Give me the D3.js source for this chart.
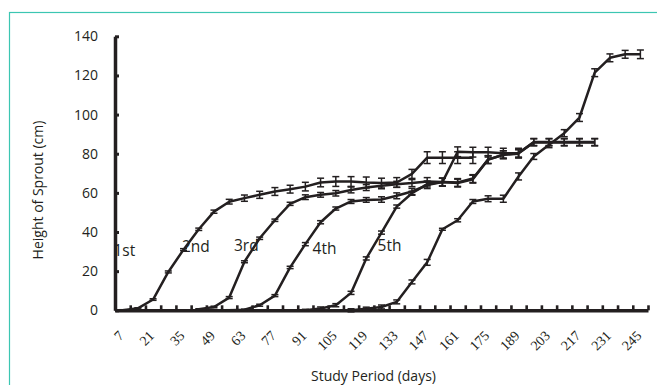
<!DOCTYPE html>
<html>
<head>
<meta charset="utf-8">
<script src="https://cdn.jsdelivr.net/npm/d3@7"></script>
<style>
  body { margin: 0; background: #fff; }
  .axis path, .axis line { stroke: #231f20; }
  .axis text { fill: #231f20; }
</style>
</head>
<body>
<svg id="chart" width="657" height="385"></svg>
<script>
// study days (one category per week)
var days = [7, 14, 21, 28, 35, 42, 49, 56, 63, 70, 77, 84, 91, 98, 105, 112, 119, 126, 133, 140,
            147, 154, 161, 168, 175, 182, 189, 196, 203, 210, 217, 224, 231, 238, 245];
var dayLabels = [7, 21, 35, 49, 63, 77, 91, 105, 119, 133, 147, 161, 175, 189, 203, 217, 231, 245];
var yTicks = [0, 20, 40, 60, 80, 100, 120, 140];

var seriesNames = ["1st", "2nd", "3rd", "4th", "5th"];

// sprout height (cm), null = not measured
var sprout1 = [0, 1, 5.5, 19.6, 31, 41.4, 50.4, 55.5, 57.3, 59, 60.7, 61.9, 63.2, 65.3, 65.8, 65.8, 65.3, 65, 65.3, 69.7,
               78, 78, 78, 78, null, null, null, null, null, null, null, null, null, null, null];
var sprout2 = [null, null, null, null, null, 0.5, 1.7, 6.5, 24.8, 36.8, 46, 54.4, 57.8, 59, 59.8, 61.5, 62.7, 63.6, 64.4, 65,
               65.8, 65.5, 81, 80.8, 80.8, 80.3, 80.3, 86, 86, 86, 86, 86, null, null, null];
var sprout3 = [null, null, null, null, null, null, null, 0, 0.3, 2.6, 7.5, 21.9, 33.8, 45, 52, 55.6, 56.4, 56.6, 58.5, 60.7,
               64, 65.5, 65.3, 67.3, 77, 79.5, 80, null, null, null, null, null, null, null, null];
var sprout4 = [null, null, null, null, null, null, null, null, null, null, null, null, 0, 0.9, 2.6, 8.9, 26.5, 39.7, 53, 59.8,
               64.5, 65.5, 65, 67, 77, 79.5, 80.3, 85.8, 85.8, 85.8, 85.8, 85.8, null, null, null];
var sprout5 = [null, null, null, null, null, null, null, null, null, null, null, null, null, null, null, 0, 0.8, 1.7, 4.3, 14.5,
               24.5, 41.4, 46, 55.6, 57, 57, 68.4, 78.6, 84.6, 90.5, 98.5, 121.4, 129, 130.8, 130.8];

// error bar half heights (cm)
var err1 = [0.3, 0.3, 0.4, 0.5, 0.5, 0.6, 0.8, 1.2, 1.6, 1.8, 2, 2, 2.2, 2.2, 2.5, 2.5, 2.8, 2.5, 2.5, 2.3,
            3, 3, 3, 3, null, null, null, null, null, null, null, null, null, null, null];
var err2 = [null, null, null, null, null, 0.3, 0.4, 0.5, 0.5, 0.6, 0.6, 0.8, 1.2, 1.2, 1.4, 1.5, 1.5, 1.5, 1.5, 1.8,
            2, 2, 2.5, 2.5, 2.5, 2.5, 2.5, 1.8, 1.8, 1.8, 1.8, 1.8, null, null, null];
var err3 = [null, null, null, null, null, null, null, 0.3, 0.3, 0.5, 0.5, 0.6, 0.8, 0.8, 0.8, 1, 1.2, 1.4, 1.5, 1.6,
            1.8, 2, 2, 2, 2, 2, 2, null, null, null, null, null, null, null, null];
var err4 = [null, null, null, null, null, null, null, null, null, null, null, null, 0.5, 0.8, 0.8, 0.8, 0.8, 0.8, 0.8, 1,
            1.5, 2, 2, 2, 2, 2, 2, 1.8, 1.8, 1.8, 1.8, 1.8, null, null, null];
var err5 = [null, null, null, null, null, null, null, null, null, null, null, null, null, null, null, 0.8, 0.8, 1, 1, 1,
            1.5, 0.5, 0.8, 1, 1.5, 1.8, 1.8, 1.5, 1.5, 1.8, 2, 2, 2, 2, 2.2];

// series label anchors (day, cm)
var labelDays = [2.8, 34.3, 58.2, 94.3, 124.2];
var labelValues = [27.7, 29.9, 30.3, 28.8, 30.3];

var series = [sprout1, sprout2, sprout3, sprout4, sprout5];
var errors = [err1, err2, err3, err4, err5];

var svg = d3.select("#chart");
var ink = "#231f20";

// outer frame of the figure
svg.append("rect")
  .attr("x", 9.5).attr("y", 12.5)
  .attr("width", 700).attr("height", 400)
  .attr("fill", "none")
  .attr("stroke", "#3cc6b2")
  .attr("stroke-width", 1.2);

var x = d3.scaleLinear()
  .domain([days[0] - 3.5, days[days.length - 1] + 3.5])
  .range([115, 648]);

var y = d3.scaleLinear()
  .domain([0, 140])
  .range([310.3, 36.3]);

// y axis
var yAxis = svg.append("g")
  .attr("class", "axis")
  .attr("transform", "translate(115,0)")
  .call(d3.axisLeft(y).tickValues(yTicks).tickSize(-4).tickSizeOuter(0).tickPadding(17));
yAxis.select(".domain").attr("stroke-width", 3.5);
yAxis.selectAll(".tick line").attr("stroke-width", 3);
yAxis.selectAll("text")
  .style("font-family", "'Open Sans', sans-serif")
  .style("font-size", "14px");

// x axis: line with week ticks between categories
var bounds = days.map(function(d) { return d - 3.5; }).concat([days[days.length - 1] + 3.5]);
var xTicks = svg.append("g")
  .attr("class", "axis")
  .attr("transform", "translate(0,310.3)")
  .call(d3.axisBottom(x).tickValues(bounds).tickSize(-5).tickSizeOuter(0).tickFormat(""));
xTicks.select(".domain").attr("stroke-width", 3.5);
xTicks.selectAll(".tick line").attr("stroke-width", 2.6);

// x labels, every other week, rotated
var xAxis = svg.append("g")
  .attr("class", "axis")
  .attr("transform", "translate(0,310.3)")
  .call(d3.axisBottom(x).tickValues(dayLabels).tickSize(0).tickFormat(d3.format("d")));
xAxis.select(".domain").remove();
xAxis.selectAll("text")
  .attr("y", 0).attr("dy", 0)
  .attr("text-anchor", "end")
  .attr("transform", "translate(1.5,26.2) rotate(-45)")
  .style("font-family", "'Liberation Serif', 'Times New Roman', serif")
  .style("font-size", "14px");

// axis titles
svg.append("text")
  .attr("transform", "translate(42.5,190) rotate(-90)")
  .attr("text-anchor", "middle")
  .attr("fill", ink)
  .style("font-family", "'Open Sans', sans-serif")
  .style("font-size", "14px")
  .text("Height of Sprout (cm)");

svg.append("text")
  .attr("x", 373.5).attr("y", 381)
  .attr("text-anchor", "middle")
  .attr("fill", ink)
  .style("font-family", "'Open Sans', sans-serif")
  .style("font-size", "14px")
  .text("Study Period (days)");

// lines
var line = d3.line()
  .defined(function(d) { return d.v != null; })
  .x(function(d) { return x(d.day); })
  .y(function(d) { return y(d.v); });

series.forEach(function(vals, s) {
  var pts = days.map(function(d, i) { return {day: d, v: vals[i], e: errors[s][i]}; });

  svg.append("path")
    .datum(pts)
    .attr("fill", "none")
    .attr("stroke", ink)
    .attr("stroke-width", 2.5)
    .attr("stroke-linejoin", "round")
    .attr("d", line);

  var bars = svg.append("g")
    .attr("stroke", ink)
    .attr("stroke-width", 1.5)
    .selectAll("g")
    .data(pts.filter(function(d) { return d.v != null; }))
    .enter().append("g");

  bars.append("line")
    .attr("x1", function(d) { return x(d.day); })
    .attr("x2", function(d) { return x(d.day); })
    .attr("y1", function(d) { return y(d.v - d.e); })
    .attr("y2", function(d) { return y(d.v + d.e); });
  bars.append("line")
    .attr("x1", function(d) { return x(d.day) - 3.5; })
    .attr("x2", function(d) { return x(d.day) + 3.5; })
    .attr("y1", function(d) { return y(d.v + d.e); })
    .attr("y2", function(d) { return y(d.v + d.e); });
  bars.append("line")
    .attr("x1", function(d) { return x(d.day) - 3.5; })
    .attr("x2", function(d) { return x(d.day) + 3.5; })
    .attr("y1", function(d) { return y(d.v - d.e); })
    .attr("y2", function(d) { return y(d.v - d.e); });
});

// series labels
svg.selectAll(".slabel")
  .data(seriesNames)
  .enter().append("text")
  .attr("class", "slabel")
  .attr("x", function(d, i) { return x(labelDays[i]); })
  .attr("y", function(d, i) { return y(labelValues[i]); })
  .attr("fill", ink)
  .style("font-family", "'Open Sans', sans-serif")
  .style("font-size", "15.5px")
  .text(function(d) { return d; });
</script>
</body>
</html>
